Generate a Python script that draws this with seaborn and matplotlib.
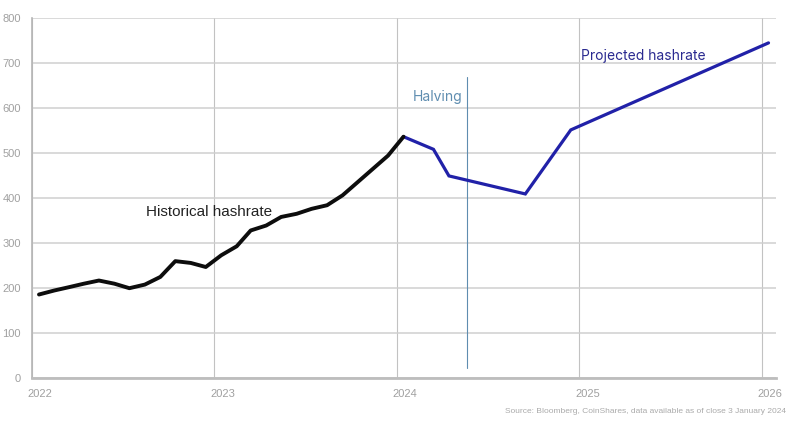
import matplotlib
matplotlib.use("Agg")
import matplotlib.pyplot as plt
import matplotlib.dates as mdates
from matplotlib.transforms import ScaledTranslation
import numpy as np
import pandas as pd
import seaborn as sns

# ===== DATA =====
hist_dates = pd.date_range("2022-01-01", "2024-01-01", freq="MS") + pd.Timedelta(days=14)
hist_values = [186, 195, 202, 210, 217, 210, 200, 208, 225, 260, 256, 247, 273,
               293, 328, 339, 358, 365, 376, 384, 406, 435, 465, 494, 536]

proj_dates = pd.to_datetime(["2024-01-15", "2024-03-15", "2024-04-15",
                             "2024-09-15", "2024-12-15", "2026-01-15"])
proj_values = [536, 508, 449, 409, 551, 744]

halving_date = pd.Timestamp("2024-05-21")
halving_span = [23, 669]

year_ticks = ["2022", "2023", "2024", "2025", "2026"]
y_ticks = [0, 100, 200, 300, 400, 500, 600, 700, 800]

# ===== STYLE =====
BLACK = "#0d0d0d"
BLUE = "#2121a8"
HALVING = "#5f8db0"
GRID = "#cfcfcf"
TICK = "#a0a0a0"

sns.set_theme(style="white")
plt.rcParams["font.family"] = ["Liberation Sans", "DejaVu Sans"]

hist = pd.DataFrame({"date": hist_dates, "hashrate": hist_values})
proj = pd.DataFrame({"date": proj_dates, "hashrate": proj_values})

fig = plt.figure(figsize=(8, 4.41), dpi=100)
ax = fig.add_axes([0.04, 0.142, 0.93, 0.818])

sns.lineplot(data=hist, x="date", y="hashrate", ax=ax, color=BLACK, lw=2.8,
             solid_joinstyle="round", solid_capstyle="round", zorder=4)
sns.lineplot(data=proj, x="date", y="hashrate", ax=ax, color=BLUE, lw=2.3,
             solid_joinstyle="miter", zorder=3)

# halving marker
ax.plot([halving_date, halving_date], halving_span, color=HALVING, lw=0.8, zorder=2)

# axes ranges
ax.set_xlim(pd.Timestamp("2022-01-01"), pd.Timestamp("2026-01-30"))
ax.set_ylim(0, 800)

ax.set_xticks([pd.Timestamp(f"{y}-01-01") for y in year_ticks])
ax.set_xticklabels(year_ticks)
ax.set_yticks(y_ticks)
ax.set_yticklabels([str(v) for v in y_ticks])
ax.set_xlabel("")
ax.set_ylabel("")

ax.grid(axis="y", color=GRID, lw=1.1)
ax.grid(axis="x", color="#c2c2c2", lw=0.8)
ax.set_axisbelow(True)

ax.tick_params(axis="both", length=0, colors=TICK, labelsize=8)
ax.tick_params(axis="x", pad=8)
ax.tick_params(axis="y", pad=8)
shift = ScaledTranslation(-3 / 72, 0, fig.dpi_scale_trans)
for lbl in ax.get_xticklabels():
    lbl.set_horizontalalignment("left")
    lbl.set_transform(lbl.get_transform() + shift)

for side in ["top", "right"]:
    ax.spines[side].set_visible(False)
ax.spines["left"].set_color("#b5b5b5")
ax.spines["left"].set_linewidth(1.2)
ax.spines["bottom"].set_color("#bdbdbd")
ax.spines["bottom"].set_linewidth(2.0)

# annotations
ax.text(pd.Timestamp("2022-08-18"), 369, "Historical hashrate", fontsize=11,
        color="#222222", va="center", ha="left")
ax.text(pd.Timestamp("2024-05-12"), 624, "Halving", fontsize=10,
        color=HALVING, va="center", ha="right", family=["Inter", "DejaVu Sans"])
ax.text(pd.Timestamp("2025-01-05"), 716, "Projected hashrate", fontsize=10,
        color="#2a2a90", va="center", ha="left", family=["Inter", "DejaVu Sans"])

fig.text(0.983, 0.066, "Source: Bloomberg, CoinShares, data available as of close 3 January 2024",
         fontsize=6, color="#aaaaaa", ha="right", va="center")

fig.savefig("out.png", dpi=100)
